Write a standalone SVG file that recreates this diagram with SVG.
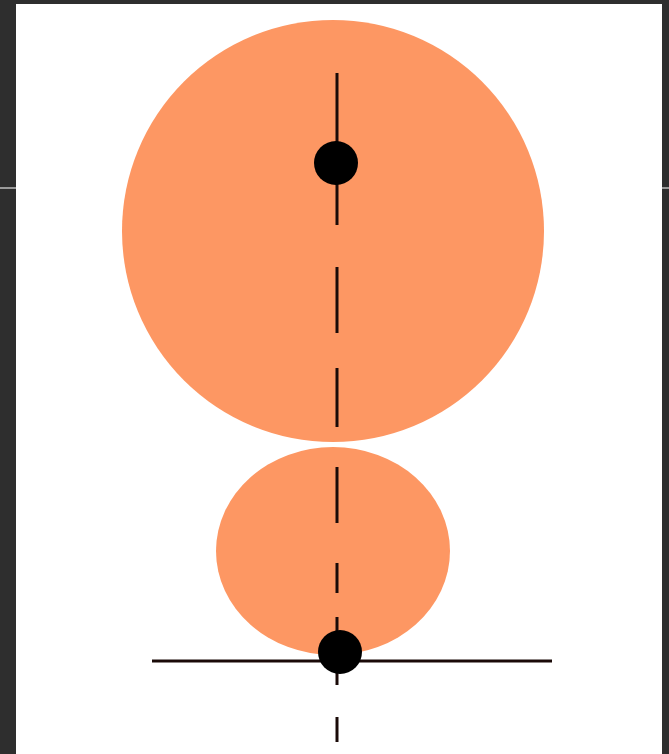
<svg xmlns="http://www.w3.org/2000/svg" width="669" height="754" viewBox="0 0 669 754">
<style>
.ax{stroke:#1a0a08;stroke-width:3;fill:none}
.ball{fill:#fd9763}
.dot{fill:#000}
</style>
<rect x="0" y="0" width="669" height="754" fill="#2e2e2e"/>
<rect x="16" y="4" width="646" height="750" fill="#fff"/>
<rect x="0" y="187" width="16" height="2" fill="#9a9a9a"/>
<rect x="662" y="187" width="7" height="2" fill="#9a9a9a"/>
<g id="big-ball"><circle class="ball" cx="333" cy="231" r="211"/></g>
<g id="small-ball"><ellipse class="ball" cx="333" cy="551" rx="117" ry="104"/></g>
<g id="connectors">
<line class="ax" x1="337" y1="73" x2="337" y2="225"/>
<line class="ax" x1="337" y1="267" x2="337" y2="333"/>
<line class="ax" x1="337" y1="368" x2="337" y2="427"/>
<line class="ax" x1="337" y1="467" x2="337" y2="523"/>
<line class="ax" x1="337" y1="563" x2="337" y2="593"/>
<line class="ax" x1="337" y1="617" x2="337" y2="685"/>
<line class="ax" x1="337" y1="717" x2="337" y2="742"/>
<line class="ax" x1="152" y1="661" x2="552" y2="661" stroke="#111"/>
</g>
<g id="top-point"><circle class="dot" cx="336" cy="163" r="22"/></g>
<g id="bottom-point"><circle class="dot" cx="340" cy="652" r="22"/></g>
</svg>
